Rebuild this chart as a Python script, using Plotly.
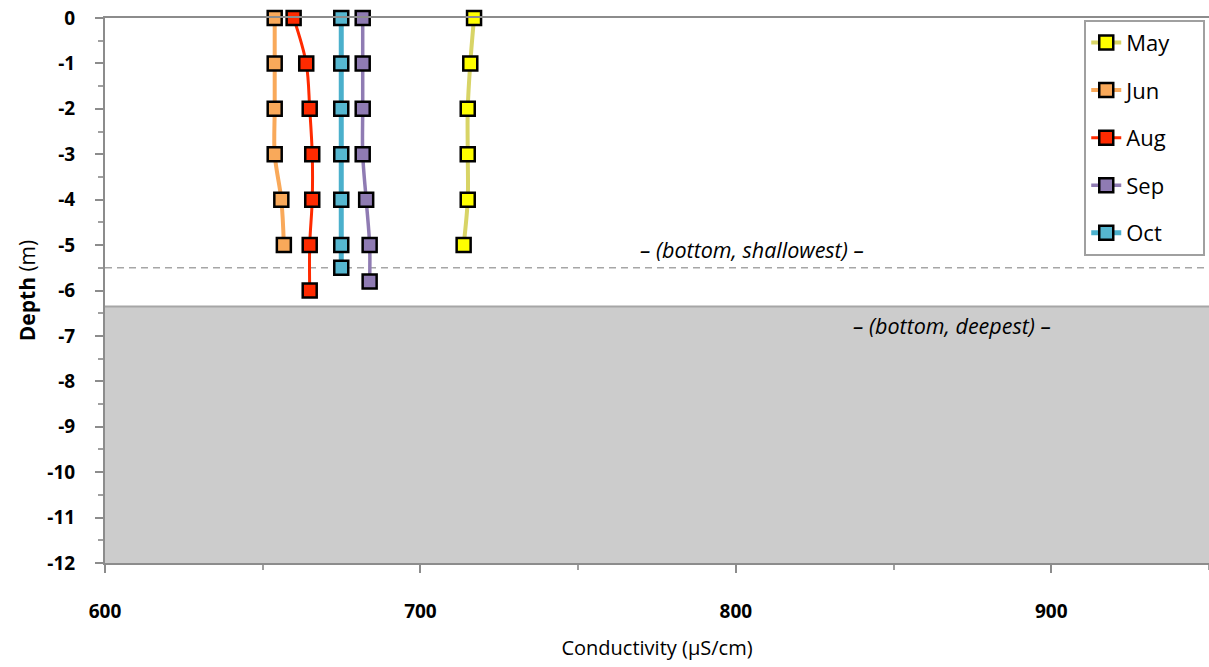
import plotly.graph_objects as go

# Monthly conductivity profiles (µS/cm) against depth (m)
months = ["May", "Jun", "Aug", "Sep", "Oct"]

may_depth = [0, -1, -2, -3, -4, -5]
may_cond = [717.0, 715.8, 715.0, 715.0, 715.0, 713.7]

jun_depth = [0, -1, -2, -3, -4, -5]
jun_cond = [653.8, 653.8, 653.8, 653.8, 655.9, 656.7]

aug_depth = [0, -1, -2, -3, -4, -5, -6]
aug_cond = [659.8, 663.8, 664.9, 665.7, 665.7, 664.9, 664.9]

sep_depth = [0, -1, -2, -3, -4, -5, -5.8]
sep_cond = [681.7, 681.7, 681.7, 681.7, 682.8, 683.9, 683.9]

oct_depth = [0, -1, -2, -3, -4, -5, -5.5]
oct_cond = [674.9, 674.9, 674.9, 674.9, 674.9, 674.9, 674.9]

# Lake bottom depths (m)
bottom_shallowest = -5.5
bottom_deepest = -6.35

x_range = [600, 950]
y_range = [-12, 0]
x_ticks = [600, 700, 800, 900]
y_ticks = list(range(0, -13, -1))
y_ticktext = [str(v) for v in y_ticks]

series = [
    (months[0], may_cond, may_depth, "#d8d466", "#ffff00", 4),
    (months[1], jun_cond, jun_depth, "#f9a95a", "#f9a95a", 4),
    (months[2], aug_cond, aug_depth, "#ff2a00", "#ff2a00", 3),
    (months[3], sep_cond, sep_depth, "#8f7bb3", "#8f7bb3", 3.5),
    (months[4], oct_cond, oct_depth, "#4bb0cc", "#56b7d0", 5),
]

FONT = "Open Sans"
PAD = "\u00a0" * 5  # widens the legend box

fig = go.Figure()

for name, xs, ys, line_col, marker_col, lw in series:
    fig.add_trace(go.Scatter(
        x=xs, y=ys, name=name + PAD, mode="lines+markers",
        legendgroup=name,
        line=dict(color=line_col, width=lw, shape="spline"),
        marker=dict(symbol="square", size=14, color=marker_col,
                    line=dict(color="#000000", width=2.5)),
        cliponaxis=False,
    ))

# Sediment below the deepest bottom
fig.add_shape(type="rect", xref="x", yref="y",
              x0=x_range[0], x1=x_range[1], y0=y_range[0], y1=bottom_deepest,
              fillcolor="#cccccc", line=dict(width=0), layer="below")
fig.add_shape(type="line", xref="x", yref="y",
              x0=x_range[0], x1=x_range[1], y0=bottom_deepest, y1=bottom_deepest,
              line=dict(color="#a6a6a6", width=2), layer="below")
# Shallowest bottom
fig.add_shape(type="line", xref="x", yref="y",
              x0=x_range[0], x1=x_range[1], y0=bottom_shallowest, y1=bottom_shallowest,
              line=dict(color="#a6a6a6", width=1.5, dash="7px,5px"), layer="below")

fig.add_annotation(x=805, y=-5.09, xref="x", yref="y",
                   text="<i>– (bottom, shallowest) –</i>", showarrow=False,
                   font=dict(family=FONT, size=21.5, color="#000000"))
fig.add_annotation(x=868.5, y=-6.76, xref="x", yref="y",
                   text="<i>– (bottom, deepest) –</i>", showarrow=False,
                   font=dict(family=FONT, size=21.5, color="#000000"))

fig.update_layout(
    width=1209, height=667,
    margin=dict(l=105, r=0, t=18, b=104, autoexpand=False),
    paper_bgcolor="white", plot_bgcolor="white",
    font=dict(family=FONT, color="#000000"),
    showlegend=True,
    legend=dict(x=0.887, xanchor="left", y=0.997, yanchor="top",
                bgcolor="white", bordercolor="#a0a0a0", borderwidth=2,
                font=dict(family=FONT, size=22, color="#000000"),
                tracegroupgap=16, traceorder="grouped"),
    xaxis=dict(
        range=x_range, tickvals=x_ticks, showgrid=False, zeroline=False,
        showline=True, linecolor="#8c8c8c", linewidth=2, mirror=True,
        ticks="outside", ticklen=8, tickwidth=1.5, tickcolor="#8c8c8c",
        minor=dict(dtick=50, ticks="outside", ticklen=5, tickwidth=1.5,
                   tickcolor="#a0a0a0", showgrid=False),
        tickfont=dict(family=FONT, size=19, color="#000000", weight="bold"),
        ticklabelstandoff=22,
        title=dict(text="Conductivity (µS/cm)", standoff=18,
                   font=dict(family=FONT, size=20, color="#000000")),
    ),
    yaxis=dict(
        range=y_range, tickvals=y_ticks, ticktext=y_ticktext,
        showgrid=False, zeroline=False,
        showline=True, linecolor="#8c8c8c", linewidth=2,
        ticks="outside", ticklen=8, tickwidth=1.5, tickcolor="#8c8c8c",
        minor=dict(dtick=0.5, ticks="outside", ticklen=5, tickwidth=1.5,
                   tickcolor="#a0a0a0", showgrid=False),
        tickfont=dict(family=FONT, size=19, color="#000000", weight="bold"),
        ticklabelstandoff=16,
        title=dict(text="<b>Depth</b> (m)", standoff=6,
                   font=dict(family=FONT, size=21, color="#000000")),
    ),
)

fig.write_html("out.html")
